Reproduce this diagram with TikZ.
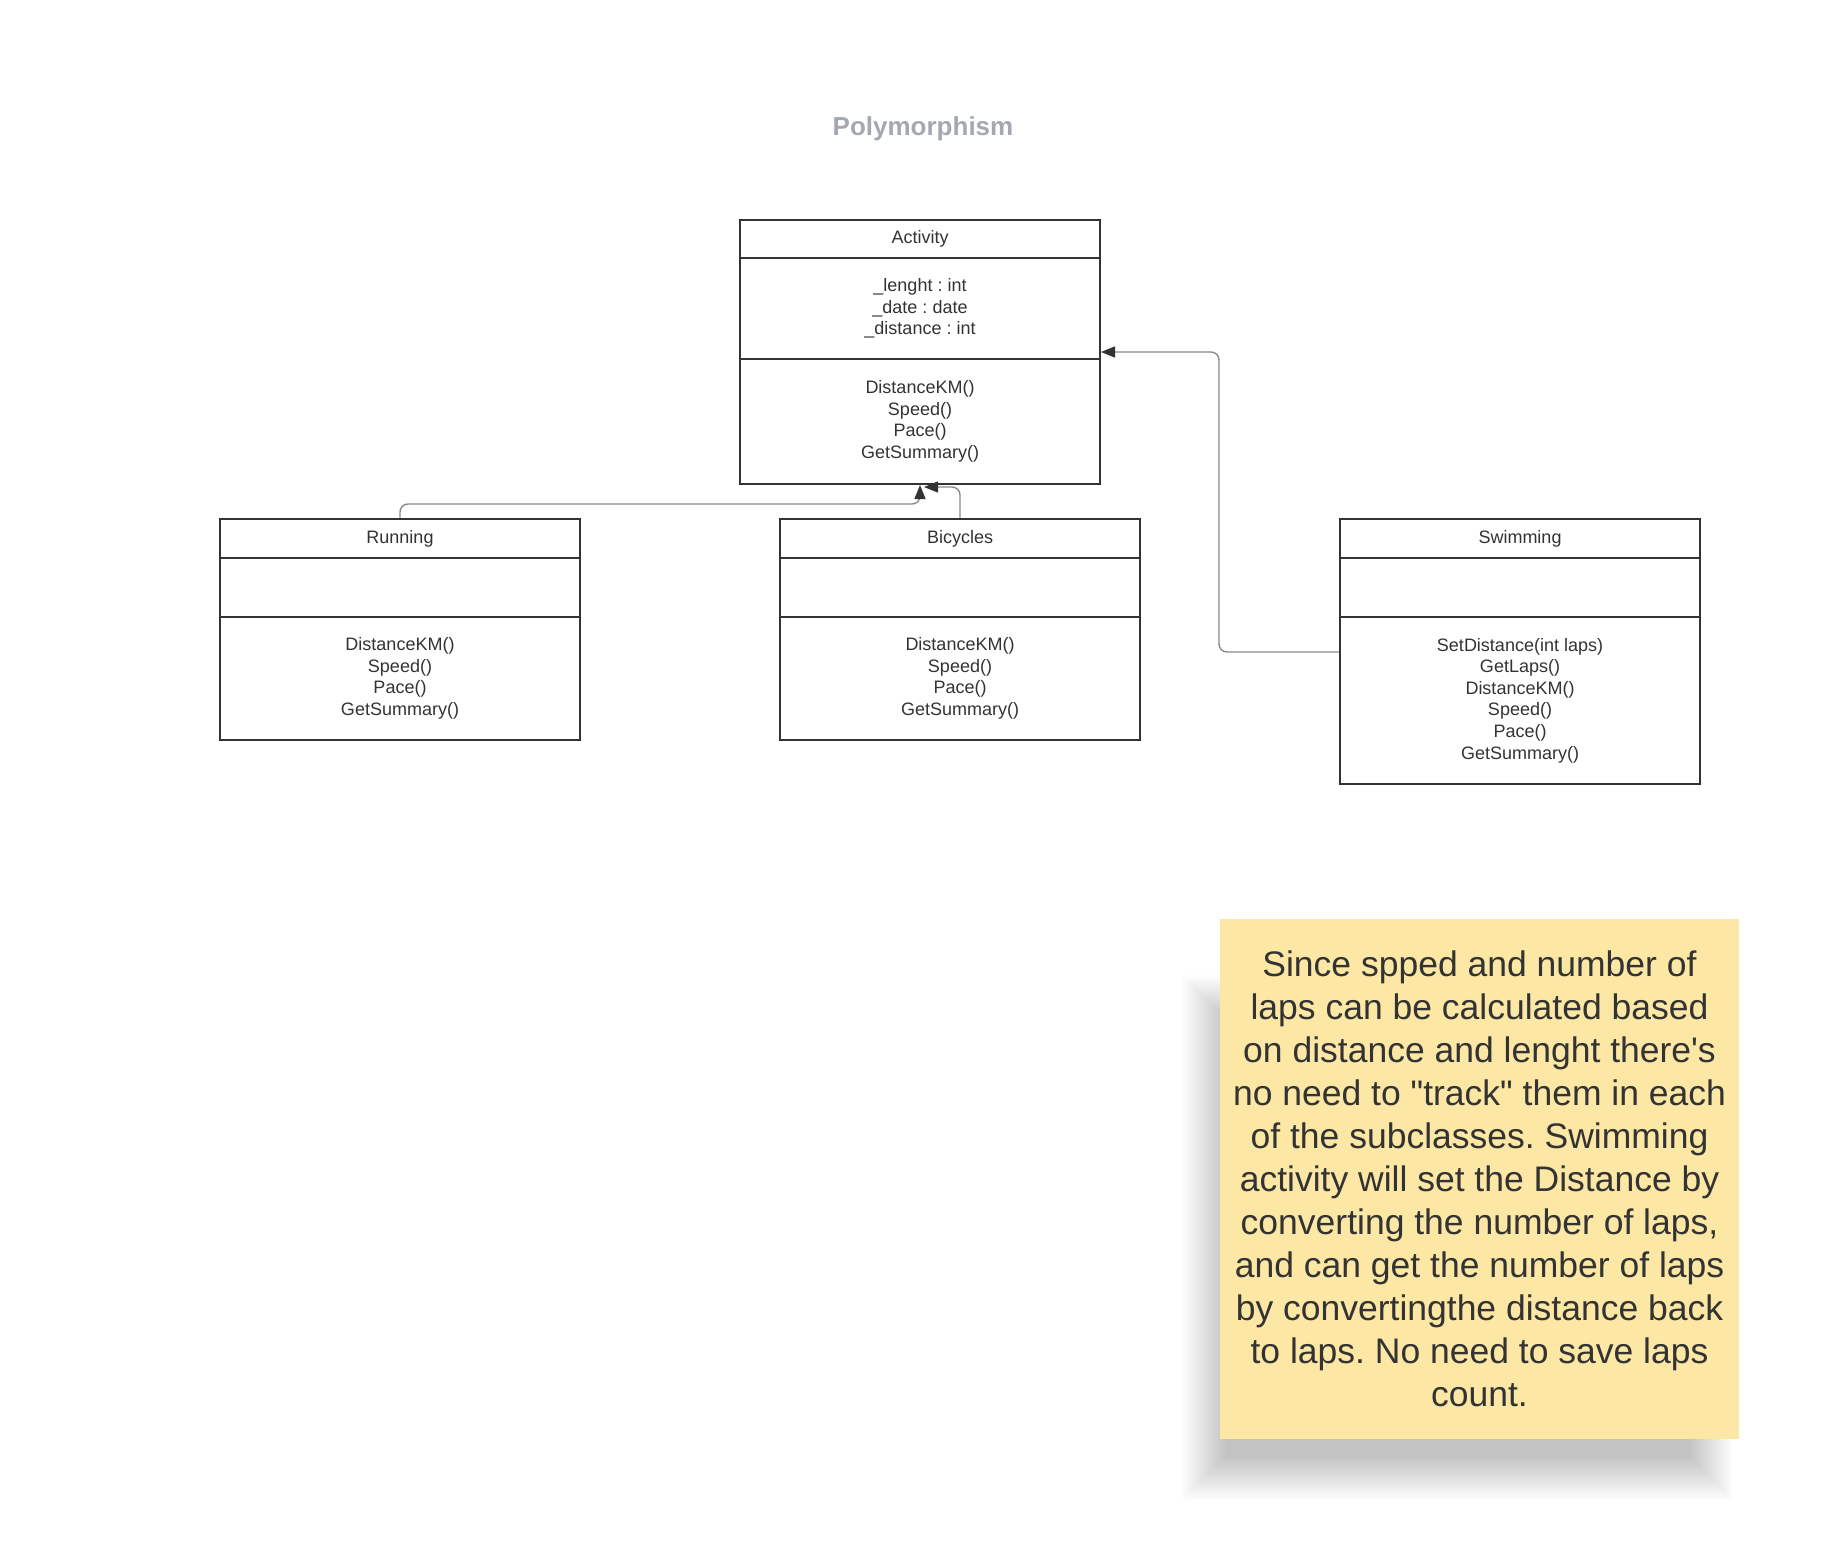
\documentclass[tikz,border=0pt]{standalone}
\usepackage{fontspec}
\setmainfont{Liberation Sans}[Ligatures=TeXOff]
\usetikzlibrary{arrows.meta,calc}
\definecolor{boxc}{HTML}{333333}
\definecolor{connc}{HTML}{8A8A8A}
\definecolor{titlec}{HTML}{A3A8B1}
\definecolor{notec}{HTML}{FCE7A4}
\definecolor{textc}{HTML}{333333}
\tikzset{
  comp/.style={draw=boxc, line width=2pt, minimum width=360pt, inner sep=0pt, align=center,
    text=textc, font=\fontsize{18}{21.6}\selectfont},
  conn/.style={draw=connc, line width=1.4pt, rounded corners=8pt,
    -{Triangle[length=14pt,width=11pt,color=boxc]}},
  shadowlayer/.style={fill=black, fill opacity=0.0095, draw=none},
}
\frenchspacing
\begin{document}
\begin{tikzpicture}[x=1pt,y=-1pt]
\useasboundingbox[fill=white] (0,0) rectangle (1834,1542);
\node[text=titlec, font=\fontsize{26}{31}\selectfont\bfseries] (title) at (923,128.5) {Polymorphism};
% Activity
\node[comp, minimum height=38pt] (ah) at (920,239) {Activity};
\node[comp, minimum height=101pt] (aa) at (920,308.5) {\_lenght : int\\\_date : date\\\_distance : int};
\node[comp, minimum height=125pt] (am) at (920,421.5) {DistanceKM()\\Speed()\\Pace()\\GetSummary()};
% Running
\node[comp, minimum height=39pt] (rh) at (400,538.5) {Running};
\node[comp, minimum height=59pt] (ra) at (400,587.5) {};
\node[comp, minimum height=123pt] (rm) at (400,678.5) {DistanceKM()\\Speed()\\Pace()\\GetSummary()};
% Bicycles
\node[comp, minimum height=39pt] (bh) at (960,538.5) {Bicycles};
\node[comp, minimum height=59pt] (ba) at (960,587.5) {};
\node[comp, minimum height=123pt] (bm) at (960,678.5) {DistanceKM()\\Speed()\\Pace()\\GetSummary()};
% Swimming
\node[comp, minimum height=39pt] (sh) at (1520,538.5) {Swimming};
\node[comp, minimum height=59pt] (sa) at (1520,587.5) {};
\node[comp, minimum height=167pt] (sm) at (1520,700.5) {SetDistance(int laps)\\GetLaps()\\DistanceKM()\\Speed()\\Pace()\\GetSummary()};
% connectors
\draw[conn] (rh.north) |- ($(am.south)+(0,19)$) -- (am.south);
\draw[conn] (bh.north) |- ([xshift=4pt,yshift=-2pt]am.south);
\draw[conn] ([yshift=48.5pt]sm.west) -- ++(-120,0) |- ([yshift=-43.5pt]aa.east);
% soft shadow of the note
\foreach \i in {0,...,29}{
  \fill[shadowlayer] (1182+1.5*\i,975+1.5*\i) rectangle (1733-1.5*\i,1500-1.5*\i);
}
% note
\node[fill=notec, minimum width=519pt, minimum height=520pt, inner sep=0pt,
  align=center, text=textc, font=\fontsize{35.5}{43}\selectfont] (note) at (1479.5,1179)
  {Since spped and number of\\laps can be calculated based\\on distance and lenght there's\\no need to "track" them in each\\of the subclasses. Swimming\\activity will set the Distance by\\converting the number of laps,\\and can get the number of laps\\by convertingthe distance back\\to laps. No need to save laps\\count.};
\end{tikzpicture}
\end{document}
